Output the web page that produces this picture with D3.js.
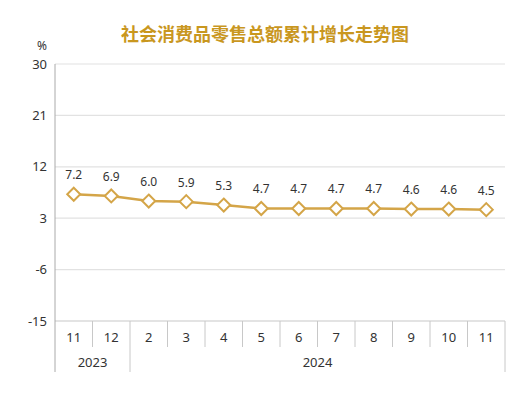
<!DOCTYPE html>
<html>
<head>
<meta charset="utf-8">
<script src="https://cdn.jsdelivr.net/npm/d3@7"></script>
<style>
  body { margin: 0; background: #fff; }
  text { font-family: "Noto Sans", "Open Sans", sans-serif; }
</style>
</head>
<body>
<div id="chart"></div>
<script>
// data
var months = ["11", "12", "2", "3", "4", "5", "6", "7", "8", "9", "10", "11"];
var years = [{ label: "2023", from: 0, to: 1 }, { label: "2024", from: 2, to: 11 }];
var values = [7.2, 6.9, 6.0, 5.9, 5.3, 4.7, 4.7, 4.7, 4.7, 4.6, 4.6, 4.5];
var yTicks = [-15, -6, 3, 12, 21, 30];

var margin = { left: 55, right: 16, top: 64, bottom: 73 };
var width = 521 - margin.left - margin.right;
var height = 394 - margin.top - margin.bottom;
var gold = "#D4A548";

var svg = d3.select("#chart")
    .append("svg")
    .attr("width", 521)
    .attr("height", 394);

svg.append("text")
    .attr("x", 265).attr("y", 41)
    .attr("text-anchor", "middle")
    .attr("fill", "#C9971F")
    .style("font-family", "'Noto Sans CJK SC', sans-serif")
    .style("font-weight", "bold")
    .style("font-size", "18px")
    .text("社会消费品零售总额累计增长走势图");

svg.append("text")
    .attr("x", 42).attr("y", 50)
    .attr("text-anchor", "middle")
    .attr("fill", "#333")
    .style("font-size", "12px")
    .text("%");

var g = svg.append("g")
    .attr("transform", "translate(" + margin.left + "," + margin.top + ")");

var x = d3.scaleBand().domain(d3.range(months.length)).range([0, width]);
var y = d3.scaleLinear().domain([-15, 30]).range([height, 0]);

// gridlines
g.selectAll(".grid").data(yTicks).enter().append("line")
    .attr("x1", 0).attr("x2", width)
    .attr("y1", function(d) { return y(d); })
    .attr("y2", function(d) { return y(d); })
    .attr("stroke", function(d) { return d === -15 ? "#c8c8c8" : "#e2e2e2"; })
    .attr("stroke-width", 1.2);

// y axis
var yAxis = g.append("g")
    .call(d3.axisLeft(y).tickValues(yTicks).tickFormat(function(d) { return String(d); })
      .tickSize(0).tickPadding(8));
yAxis.select(".domain").remove();
yAxis.selectAll("text").style("font-size", "13px").attr("fill", "#333");

g.append("line")
    .attr("x1", 0).attr("x2", 0)
    .attr("y1", 0).attr("y2", height + 51)
    .attr("stroke", "#aaa");

// x axis: month row
var xAxis = g.append("g")
    .attr("transform", "translate(0," + height + ")")
    .call(d3.axisBottom(x).tickFormat(function(i) { return months[i]; }).tickSize(0).tickPadding(12));
xAxis.select(".domain").remove();
xAxis.selectAll("text").style("font-size", "13px").attr("fill", "#333");

g.selectAll(".sep").data(d3.range(1, months.length + 1)).enter().append("line")
    .attr("x1", function(i) { return i < months.length ? x(i) : width; })
    .attr("x2", function(i) { return i < months.length ? x(i) : width; })
    .attr("y1", height)
    .attr("y2", function(i) {
      var end = years.some(function(yr) { return yr.to + 1 === i; });
      return height + (end ? 51 : 26);
    })
    .attr("stroke", "#c8c8c8");

// year row
g.selectAll(".year").data(years).enter().append("text")
    .attr("x", function(d) { return (x(d.from) + x(d.to) + x.bandwidth()) / 2; })
    .attr("y", height + 46)
    .attr("text-anchor", "middle")
    .attr("fill", "#333")
    .style("font-size", "13px")
    .text(function(d) { return d.label; });

// line
var line = d3.line()
    .x(function(d, i) { return x(i) + x.bandwidth() / 2; })
    .y(function(d) { return y(d); });

g.append("path")
    .datum(values)
    .attr("d", line)
    .attr("fill", "none")
    .attr("stroke", gold)
    .attr("stroke-width", 2.5);

g.selectAll(".pt").data(values).enter().append("path")
    .attr("d", "M0,-6.5L6.5,0L0,6.5L-6.5,0Z")
    .attr("transform", function(d, i) { return "translate(" + (x(i) + x.bandwidth() / 2) + "," + y(d) + ")"; })
    .attr("fill", "#fff")
    .attr("stroke", gold)
    .attr("stroke-width", 2);

g.selectAll(".lbl").data(values).enter().append("text")
    .attr("x", function(d, i) { return x(i) + x.bandwidth() / 2; })
    .attr("y", function(d) { return y(d) - 15; })
    .attr("text-anchor", "middle")
    .attr("fill", "#333")
    .style("font-size", "12px")
    .text(function(d) { return d.toFixed(1); });
</script>
</body>
</html>
